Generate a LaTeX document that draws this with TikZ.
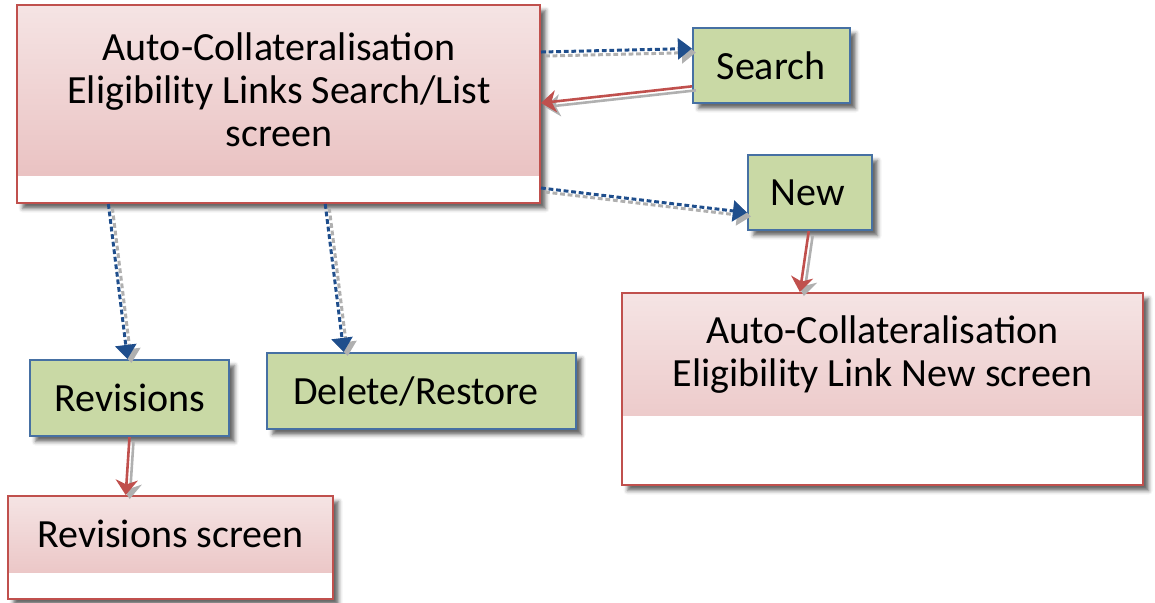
\documentclass[tikz,border=0pt]{standalone}
\usepackage{fontspec}
\setmainfont{Carlito}
\usetikzlibrary{fit,calc,arrows.meta,shadows.blur}

\definecolor{pinkT}{HTML}{F5E4E4}
\definecolor{pinkB}{HTML}{E8BDBD}
\definecolor{redB}{HTML}{C0504D}
\definecolor{greenF}{HTML}{C9D9A5}
\definecolor{blueB}{HTML}{4670A3}
\definecolor{blueL}{HTML}{1F4E8C}
\definecolor{shadowC}{HTML}{B0B0B0}

\tikzset{
  boxshadow/.style={blur shadow={shadow xshift=2.8pt, shadow yshift=-2.8pt,
      shadow blur radius=2pt, shadow opacity=60}},
  screenbox/.style={draw=redB, line width=1pt, fill=white, inner sep=0pt,
      boxshadow,
      path picture={\shade[top color=pinkT, bottom color=pinkB]
        (path picture bounding box.north west) rectangle
        ([yshift=#1]path picture bounding box.south east);}},
  actionbox/.style={draw=blueB, line width=1.1pt, fill=greenF, inner sep=0pt,
      boxshadow},
  boxtext/.style={align=center, inner sep=0pt,
      font=\fontsize{20pt}{21.5pt}\selectfont},
  bluedot/.style={draw=blueL, line width=1.5pt, dash pattern=on 2.4pt off 1.4pt,
      -{Triangle[length=7pt,width=10.5pt]}},
  bluedotsh/.style={draw=shadowC, line width=1.5pt, dash pattern=on 2.4pt off 1.4pt,
      -{Triangle[length=7pt,width=10.5pt]},
      transform canvas={shift={(2pt,-2pt)}}},
  redarrow/.style={draw=redB, line width=1.3pt,
      -{Stealth[length=7.5pt,width=11pt,inset=2.2pt]}},
  redarrowsh/.style={draw=shadowC, line width=1.3pt,
      -{Stealth[length=7.5pt,width=11pt,inset=2.2pt]},
      transform canvas={shift={(2pt,-2pt)}}},
}

\begin{document}
\begin{tikzpicture}[x=0.5pt,y=-0.5pt]
\useasboundingbox (0,0) rectangle (1155,602);

% boxes
\node[screenbox=14pt, fit={(17,5)(540,203)}] (main) {};
\node[boxtext] (mainT) at (279,90)
  {Auto-Collateralisation\\Eligibility Links Search/List\\screen};

\node[actionbox, fit={(693,28)(850,103)}] (search) {};
\node[boxtext] (searchT) at (771,66) {Search};
\node[actionbox, fit={(748,155)(872,230)}] (new) {};
\node[boxtext] (newT) at (808,193) {New};

\node[screenbox=35pt, fit={(622,293)(1143,485)}] (newscr) {};
\node[boxtext] (newscrT) at (882.5,355)
  {Auto-Collateralisation\\Eligibility Link New screen};

\node[actionbox, fit={(30,360)(229,436)}] (rev) {};
\node[boxtext] (revT) at (130,398) {Revisions};
\node[actionbox, fit={(267,353)(576,429)}] (del) {};
\node[boxtext] (delT) at (416,391) {Delete/Restore};

\node[screenbox=13.5pt, fit={(8,496)(333,599)}] (revscr) {};
\node[boxtext] (revscrT) at (170.5,534) {Revisions screen};

% connector shadows
\draw[bluedotsh] ($(main.north east)!0.24!(main.south east)$) -- ($(search.north west)!0.28!(search.south west)$);
\draw[redarrowsh] ($(search.north west)!0.77!(search.south west)$) -- ($(main.north east)!0.495!(main.south east)$);
\draw[bluedotsh] ($(main.north east)!0.92!(main.south east)$) -- ($(new.north west)!0.76!(new.south west)$);
\draw[bluedotsh] ($(main.south west)!0.176!(main.south east)$) -- ($(rev.north west)!0.49!(rev.north east)$);
\draw[bluedotsh] ($(main.south west)!0.589!(main.south east)$) -- ($(del.north west)!0.25!(del.north east)$);
\draw[redarrowsh] ($(rev.south west)!0.5!(rev.south east)$) -- ($(revscr.north west)!0.363!(revscr.north east)$);
\draw[redarrowsh] ($(new.south west)!0.49!(new.south east)$) -- ($(newscr.north west)!0.342!(newscr.north east)$);

% connectors
\draw[bluedot] ($(main.north east)!0.24!(main.south east)$) -- ($(search.north west)!0.28!(search.south west)$);
\draw[redarrow] ($(search.north west)!0.77!(search.south west)$) -- ($(main.north east)!0.495!(main.south east)$);
\draw[bluedot] ($(main.north east)!0.92!(main.south east)$) -- ($(new.north west)!0.76!(new.south west)$);
\draw[bluedot] ($(main.south west)!0.176!(main.south east)$) -- ($(rev.north west)!0.49!(rev.north east)$);
\draw[bluedot] ($(main.south west)!0.589!(main.south east)$) -- ($(del.north west)!0.25!(del.north east)$);
\draw[redarrow] ($(rev.south west)!0.5!(rev.south east)$) -- ($(revscr.north west)!0.363!(revscr.north east)$);
\draw[redarrow] ($(new.south west)!0.49!(new.south east)$) -- ($(newscr.north west)!0.342!(newscr.north east)$);
\end{tikzpicture}
\end{document}
